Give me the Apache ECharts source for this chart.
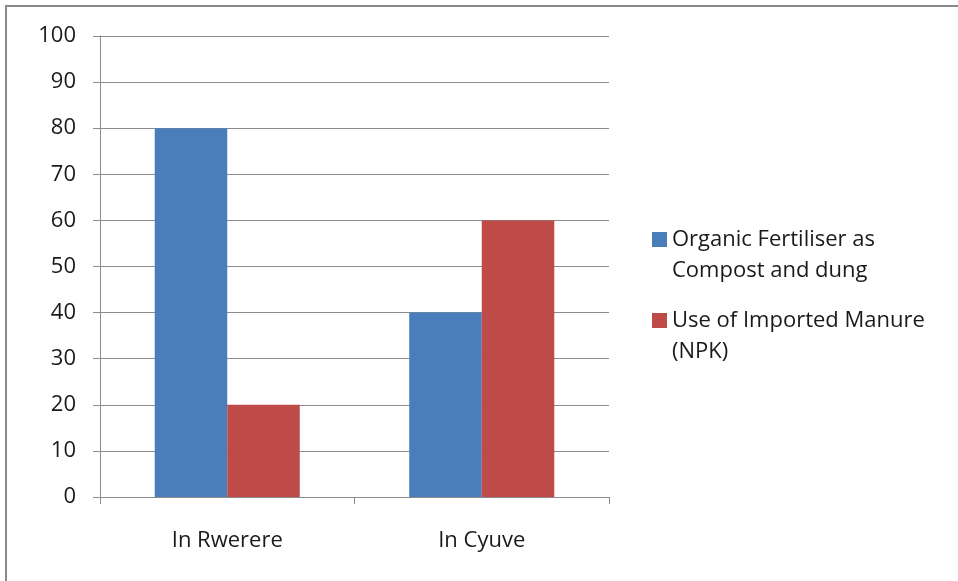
<!DOCTYPE html>
<html>
<head>
<meta charset="utf-8">
<script src="https://cdn.jsdelivr.net/npm/echarts@6/dist/echarts.min.js"></script>
<style>
  html, body { margin: 0; padding: 0; background: #fff; }
  #chart { width: 958px; height: 581px; }
  #frame {
    position: absolute; left: 5px; top: 5px; right: 0; bottom: 0;
    border-top: 2px solid #8a8a8a; border-left: 2px solid #8a8a8a;
    pointer-events: none;
  }
</style>
</head>
<body>
<div id="chart"></div>
<div id="frame"></div>
<script>
const categories = ["In Rwerere", "In Cyuve"];
const organicValues = [80, 40];
const importedValues = [20, 60];
const seriesNames = ["Organic Fertiliser as\nCompost and dung", "Use of Imported Manure\n(NPK)"];

const COLORS = {
  organic: "#4a7ebb",
  imported: "#be4b48",
  grid: "#8c8c8c",
  text: "#1a1a1a",
};

const FONT = "'Open Sans', sans-serif";

const chart = echarts.init(document.getElementById("chart"), null, { renderer: "canvas" });

// one legend per series so each can sit where the reference puts it;
// a leading blank line lines the icon up with the first text line
function legendFor(name, top) {
  return {
    data: [name],
    left: 652,
    top: top,
    orient: "vertical",
    padding: 0,
    itemWidth: 15,
    itemHeight: 15,
    icon: "rect",
    selectedMode: false,
    formatter: (n) => "\n" + n,
    textStyle: {
      fontFamily: FONT,
      fontSize: 22,
      color: COLORS.text,
      lineHeight: 31,
    },
  };
}

const option = {
  animation: false,
  backgroundColor: "#fff",
  grid: { left: 100, right: 349, top: 36, bottom: 84 },
  legend: [legendFor(seriesNames[0], 193), legendFor(seriesNames[1], 274)],
  xAxis: {
    type: "category",
    data: categories,
    axisLine: { lineStyle: { color: COLORS.grid, width: 1 } },
    axisTick: { show: true, length: 7, lineStyle: { color: COLORS.grid } },
    axisLabel: { fontFamily: FONT, fontSize: 22, color: COLORS.text, margin: 33 },
  },
  yAxis: {
    type: "value",
    min: 0,
    max: 100,
    interval: 10,
    axisLine: { show: true, lineStyle: { color: COLORS.grid, width: 1 } },
    axisTick: { show: true, length: 7, lineStyle: { color: COLORS.grid } },
    splitLine: { show: true, lineStyle: { color: COLORS.grid, width: 1 } },
    axisLabel: { fontFamily: FONT, fontSize: 22, color: COLORS.text, margin: 24 },
  },
  series: [
    {
      name: seriesNames[0],
      type: "bar",
      data: organicValues,
      barGap: "0%",
      barCategoryGap: "43%",
      itemStyle: { color: COLORS.organic },
    },
    {
      name: seriesNames[1],
      type: "bar",
      data: importedValues,
      itemStyle: { color: COLORS.imported },
    },
  ],
};

chart.setOption(option);
</script>
</body>
</html>
